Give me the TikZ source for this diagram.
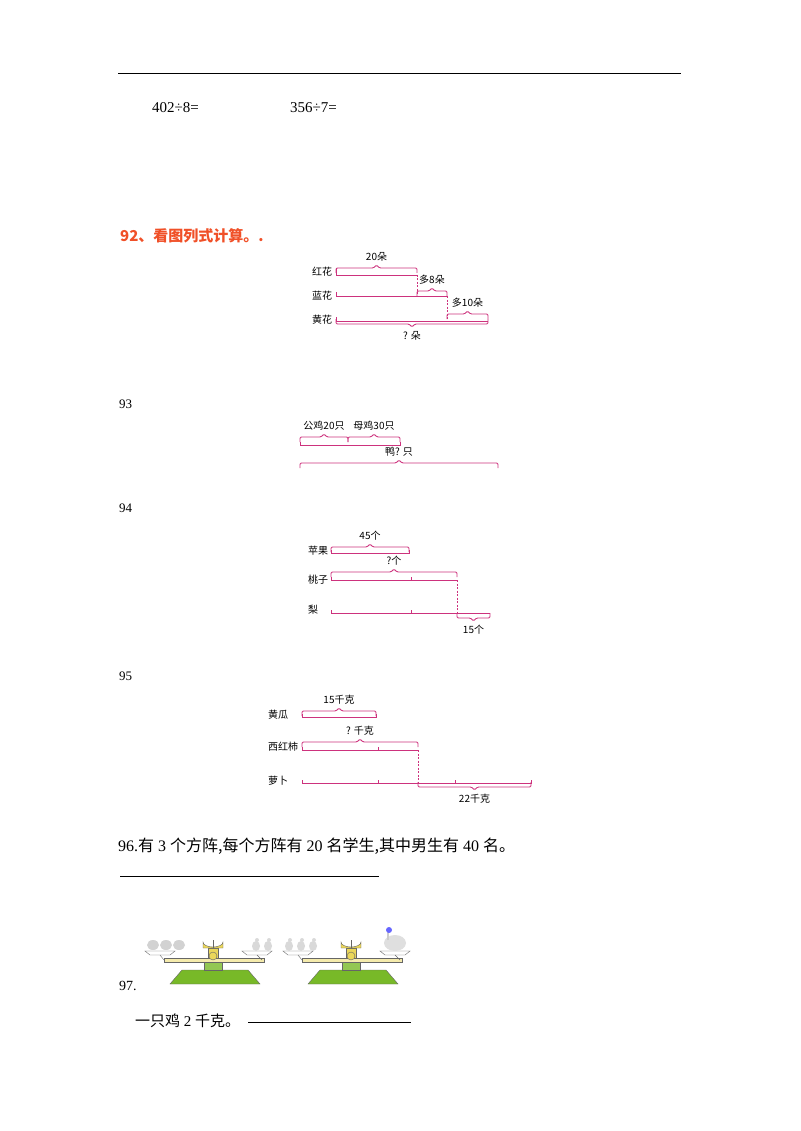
\documentclass[tikz,border=0pt]{standalone}
\usepackage{fontspec}
\setmainfont{Liberation Serif}
\newfontfamily\cjk{Noto Sans CJK SC}
\definecolor{mag}{RGB}{205,50,125}
\definecolor{ttl}{RGB}{240,80,40}
\definecolor{grn}{RGB}{120,185,40}
\definecolor{ylw}{RGB}{235,215,90}
\tikzset{br/.style={mag,line width=0.9pt,rounded corners=1.2pt},
 seg/.style={mag,line width=0.9pt},
 dsh/.style={mag,line width=0.8pt,dashed,dash pattern=on 2pt off 1.5pt},
 lab/.style={font=\cjk\fontsize{10}{12}\selectfont,inner sep=0pt},
 bl/.style={font=\fontsize{15}{18}\selectfont,inner sep=0pt,anchor=west}}
\newcommand\brup[4]{\draw[br] (#1,#3+5)--(#1,#3)--({(#1+#2)/2-3},#3)--({(#1+#2)/2},#3-3)--({(#1+#2)/2+3},#3)--(#2,#3)--(#2,#3+5);
 \node[lab] at ({(#1+#2)/2},#3-11) {#4};}
\newcommand\brdn[4]{\draw[br] (#1,#3-5)--(#1,#3)--({(#1+#2)/2-3},#3)--({(#1+#2)/2},#3+3)--({(#1+#2)/2+3},#3)--(#2,#3)--(#2,#3-5);
 \node[lab] at ({(#1+#2)/2},#3+12) {#4};}
\newcommand\scl[1]{\begin{scope}[shift={(#1,0)}]
 \fill[grn,draw=black!60] (28,984)--(40,970)--(106,970)--(118,984)--cycle;
 \fill[grn!80!white,draw=black!60] (62,970) rectangle (80,960);
 \fill[ylw,draw=black!60] (66,960) rectangle (76,948);
 \draw[black!60,fill=ylw!50!white] (22,958) rectangle (122,962);
 \fill[ylw,draw=black!60] (61,948)--(61,942) arc(180:0:10 and 5)--(81,948)--cycle;
 \draw[black!60] (71,940)--(71,948);
 \fill[ylw,draw=black!60] (71,956) circle (4);
 \draw[black!60,fill=white] (3,951)--(8,955)--(28,955)--(33,951)--cycle;
 \draw[black!60,fill=white] (100,951)--(105,955)--(125,955)--(130,951)--cycle;
 \draw[black!60] (18,955)--(22,960) (115,955)--(120,960);
\end{scope}}
\begin{document}
\begin{tikzpicture}[x=1pt,y=-1pt]
\useasboundingbox (0,0) rectangle (800,1131);
\draw[line width=1pt] (118,74)--(681,74);
\node[bl] (a) at (152,108) {402÷8=};
\node[bl] (b) at (290,108) {356÷7=};
\node[anchor=west,inner sep=0pt,text=ttl,font=\cjk\bfseries\fontsize{15}{18}\selectfont] (t92) at (120,236) {92、看图列式计算。.};
% 92
\node[lab] at (322,272) {红花};
\node[lab] at (322,296) {蓝花};
\node[lab] at (322,320) {黄花};
\brup{336}{417}{268}{20朵}
\draw[seg] (336,268)--(336,275)--(417,275);
\draw[dsh] (417,275)--(417,296);
\draw[seg] (336,292)--(336,296)--(447,296);
\brup{417}{447}{291}{多8朵}
\draw[dsh] (447,296)--(447,320);
\brup{447}{488}{314}{多10朵}
\draw[seg] (336,317)--(336,321)--(488,321);
\brdn{336}{488}{324}{? 朵}
% 93
\node[bl,font=\fontsize{13}{15}\selectfont] at (119,404) {93};
\brup{300}{348}{437}{公鸡20只}
\brup{348}{400}{437}{母鸡30只}
\draw[seg] (300,442)--(300,445)--(400,445)--(400,442);
\brup{300}{498}{463}{鸭? 只}
% 94
\node[bl,font=\fontsize{13}{15}\selectfont] at (119,508) {94};
\node[lab] at (318,551) {苹果};
\node[lab] at (318,580) {桃子};
\node[lab] at (313,610) {梨};
\brup{331}{409}{547}{45个}
\draw[seg] (331,550)--(331,553)--(409,553)--(409,550);
\brup{331}{457}{572}{?个}
\draw[seg] (331,577)--(331,580)--(457,580);
\draw[seg] (411,577)--(411,580);
\draw[seg] (331,610)--(331,613)--(490,613);
\draw[seg] (411,610)--(411,613);
\draw[dsh] (457,580)--(457,613);
\brdn{457}{490}{618}{15个}
% 95
\node[bl,font=\fontsize{13}{15}\selectfont] at (119,676) {95};
\node[lab] at (278,715) {黄瓜};
\node[lab] at (283,747) {西红柿};
\node[lab] at (278,781) {萝卜};
\brup{302}{376}{711}{15千克}
\draw[seg] (302,714)--(302,717)--(376,717)--(376,714);
\brup{302}{418}{742}{? 千克}
\draw[seg] (302,747)--(302,750)--(418,750);
\draw[seg] (378,747)--(378,750);
\draw[seg] (302,780)--(302,783)--(531,783)--(531,780);
\foreach \x in {378,455} \draw[seg] (\x,780)--(\x,783);
\draw[dsh] (418,750)--(418,783);
\brdn{418}{531}{787}{22千克}
% 96
\node[anchor=west,inner sep=0pt,font=\fontsize{16}{19}\selectfont] (q96) at (118,846) {96.{\cjk 有} 3 {\cjk 个方阵,每个方阵有} 20 {\cjk 名学生,其中男生有} 40 {\cjk 名。}};
\draw (120,876)--(379,876);
% 97
\scl{142}
\scl{280}
\foreach \x in {153,166,179} \fill[gray!35] (\x,945) ellipse (6 and 5);
\foreach \x in {256,268} {\fill[gray!30] (\x,946) ellipse (4 and 5); \fill[gray!30] (\x+1,940) circle (2);}
\foreach \x in {289,301,313} {\fill[gray!30] (\x,946) ellipse (4 and 5); \fill[gray!30] (\x+1,940) circle (2);}
\fill[gray!25] (395,943) ellipse (11 and 8);
\draw[gray!40,line width=2pt] (388,940)--(388,932);
\fill[blue!60] (389,930) circle (3);
\node[bl,font=\fontsize{14}{17}\selectfont] at (119,986) {97.};
\node[anchor=west,inner sep=0pt,font=\fontsize{15}{18}\selectfont] (q97) at (135,1021) {{\cjk 一只鸡} 2 {\cjk 千克。}};
\draw (248,1022)--(411,1022);
\end{tikzpicture}
\end{document}
